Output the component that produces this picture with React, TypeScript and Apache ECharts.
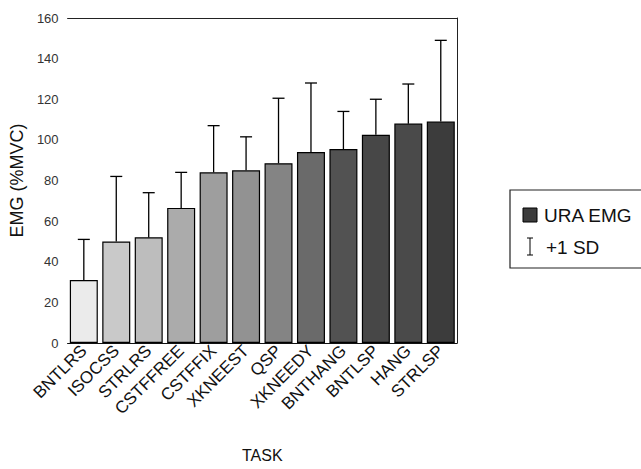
import React, { useEffect, useRef } from "react";
import * as echarts from "echarts";

const categories = [
  "BNTLRS", "ISOCSS", "STRLRS", "CSTFFREE", "CSTFFIX", "XKNEEST",
  "QSP", "XKNEEDY", "BNTHANG", "BNTLSP", "HANG", "STRLSP",
];
const meanEMG = [31, 50, 52, 66.5, 84, 85, 88.5, 94, 95.5, 102.5, 108, 109];
const sdEMG = [20, 32, 22, 17.5, 23, 16.5, 32, 34, 18.5, 17.5, 19.5, 40];
const yTicks = { min: 0, max: 160, interval: 20 };

const barShades = [
  "#ebebeb", "#c9c9c9", "#bdbdbd", "#ababab", "#9e9e9e", "#929292",
  "#848484", "#6a6a6a", "#525252", "#474747", "#4a4a4a", "#3c3c3c",
];

const FONT = "'Liberation Sans', Arial, Helvetica, sans-serif";

export default function App() {
  const ref = useRef<HTMLDivElement>(null);
  useEffect(() => {
    if (!ref.current) return;
    const chart = echarts.init(ref.current, undefined, { renderer: "svg" });
    const errData = categories.map((_, i) => [i, meanEMG[i], meanEMG[i] + sdEMG[i]]);
    chart.setOption({
      animation: false,
      backgroundColor: "#fff",
      textStyle: { fontFamily: FONT },
      grid: { left: 62, right: 184, top: 18, bottom: 126, containLabel: false },
      xAxis: [
        {
          type: "category",
          data: categories,
          name: "TASK",
          nameLocation: "middle",
          nameGap: 104,
          nameTextStyle: { fontSize: 16, color: "#111", fontFamily: FONT },
          axisLine: { show: true, lineStyle: { color: "#111", width: 1.2 } },
          axisTick: { show: false },
          axisLabel: {
            interval: 0,
            rotate: 45,
            fontSize: 17,
            color: "#111",
            margin: 5,
            fontFamily: FONT,
          },
        },
        {
          type: "category",
          data: categories,
          position: "top",
          axisLine: { show: true, onZero: false, lineStyle: { color: "#222", width: 1 } },
          axisTick: { show: false },
          axisLabel: { show: false },
        },
      ],
      yAxis: [
        {
          type: "value",
          min: yTicks.min,
          max: yTicks.max,
          interval: yTicks.interval,
          name: "EMG (%MVC)",
          nameLocation: "middle",
          nameGap: 38,
          nameTextStyle: { fontSize: 18, color: "#111", fontFamily: FONT },
          axisLine: { show: false },
          axisTick: { show: false },
          splitLine: { show: false },
          axisLabel: { fontSize: 13, color: "#333", margin: 9, fontFamily: FONT },
        },
        {
          type: "value",
          min: yTicks.min,
          max: yTicks.max,
          interval: yTicks.interval,
          position: "right",
          axisLine: { show: true, onZero: false, lineStyle: { color: "#222", width: 1 } },
          axisTick: { show: false },
          splitLine: { show: false },
          axisLabel: { show: false },
        },
      ],
      series: [
        {
          name: "URA EMG",
          type: "bar",
          barWidth: 28,
          data: meanEMG.map((v, i) => ({
            value: v,
            itemStyle: { color: barShades[i] },
          })),
          itemStyle: { borderColor: "#000", borderWidth: 1.2 },
          z: 2,
        },
        {
          name: "+1 SD",
          type: "custom",
          data: errData,
          z: 3,
          renderItem: (_params: any, api: any) => {
            const x = api.value(0);
            const p0 = api.coord([x, api.value(1)]);
            const p1 = api.coord([x, api.value(2)]);
            const style = { stroke: "#000", lineWidth: 1.3 };
            return {
              type: "group",
              children: [
                { type: "line", shape: { x1: p0[0], y1: p0[1], x2: p1[0], y2: p1[1] }, style },
                { type: "line", shape: { x1: p1[0] - 6, y1: p1[1], x2: p1[0] + 6, y2: p1[1] }, style },
              ],
            };
          },
        },
      ],
      graphic: [
        {
          type: "rect",
          shape: { x: 510, y: 190, width: 160, height: 78 },
          style: { fill: "#fff", stroke: "#222", lineWidth: 1.2 },
        },
        {
          type: "rect",
          shape: { x: 523, y: 208, width: 14, height: 14 },
          style: { fill: "#3c3c3c", stroke: "#000", lineWidth: 1 },
        },
        {
          type: "text",
          x: 544,
          y: 215,
          style: { text: "URA EMG", fontSize: 19, fill: "#111", fontFamily: FONT, verticalAlign: "middle" },
        },
        {
          type: "line",
          shape: { x1: 530, y1: 238, x2: 530, y2: 255 },
          style: { stroke: "#000", lineWidth: 1 },
        },
        {
          type: "line",
          shape: { x1: 527, y1: 238, x2: 533, y2: 238 },
          style: { stroke: "#000", lineWidth: 1 },
        },
        {
          type: "line",
          shape: { x1: 527, y1: 255, x2: 533, y2: 255 },
          style: { stroke: "#000", lineWidth: 1 },
        },
        {
          type: "text",
          x: 546,
          y: 247,
          style: { text: "+1 SD", fontSize: 19, fill: "#111", fontFamily: FONT, verticalAlign: "middle" },
        },
      ],
    });
    return () => chart.dispose();
  }, []);
  return <div ref={ref} style={{ width: 641, height: 469, position: "absolute", left: 0, top: 0 }} />;
}
